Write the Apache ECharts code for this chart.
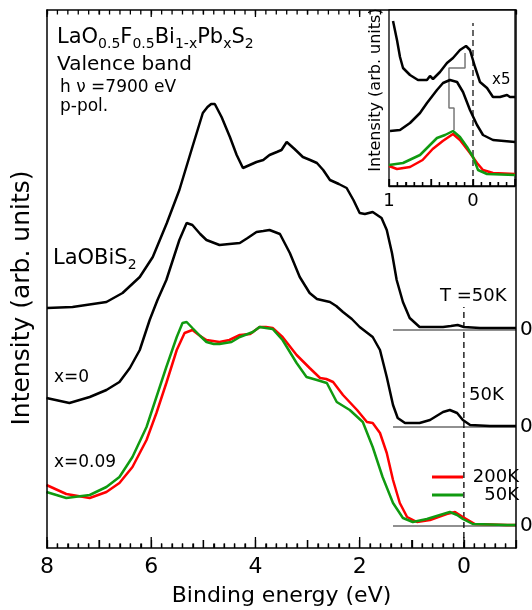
<!DOCTYPE html>
<html><head><meta charset="utf-8">
<script src="https://cdn.jsdelivr.net/npm/echarts@6/dist/echarts.min.js"></script>
<style>html,body{margin:0;padding:0;background:#fff}#c{width:532px;height:610px}</style>
</head><body><div id="c"></div>
<script>
// ---------------- data (binding energy in eV, intensity in arb. units above each curve's own baseline) ----------------
const laobiE = [8.0,7.51,6.86,6.55,6.22,5.97,5.70,5.46,5.21,5.01,4.92,4.85,4.78,4.65,4.49,4.36,4.24,3.98,3.85,3.73,3.59,3.50,3.40,3.25,3.09,2.95,2.82,2.70,2.57,2.40,2.25,2.12,2.00,1.90,1.75,1.58,1.48,1.38,1.29,1.17,1.04,0.85,0.60,0.40,0.25,0.12,0.00,-0.31,-0.60,-1.0];
const laobiI = [22,23,28,37,53,73,107,140,183,217,223,226,226,213,193,175,162,168,170,175,178,180,188,181,173,170,167,160,150,146,142,130,117,116,118,112,100,77,50,28,12,3,3,3,4,5,3,2,2,2];
const x0E = [8.01,7.57,7.18,6.86,6.61,6.41,6.22,6.03,5.88,5.71,5.46,5.32,5.21,5.06,4.94,4.69,4.50,4.30,4.15,3.98,3.85,3.73,3.53,3.34,3.15,2.96,2.82,2.57,2.45,2.32,2.15,2.00,1.75,1.61,1.48,1.36,1.27,1.13,0.85,0.65,0.40,0.27,0.13,0.02,-0.12,-0.50,-0.88,-1.0];
const x0I = [29,24,30,37,45,59,77,107,127,147,187,204,202,193,187,182,183,184,189,195,196,197,193,174,150,134,128,125,121,115,108,100,90,77,50,22,9,4,4,7,15,17,14,7,2,1,1,1];
const red009E = [8.01,7.63,7.18,6.86,6.61,6.36,6.09,5.90,5.71,5.51,5.36,5.21,5.06,4.94,4.69,4.50,4.30,4.10,3.92,3.80,3.67,3.48,3.21,2.96,2.76,2.64,2.51,2.32,2.05,1.86,1.75,1.61,1.48,1.36,1.23,1.09,0.90,0.65,0.33,0.17,0.02,-0.21,-0.83,-1.0];
const red009I = [41,32,28,34,43,59,86,113,143,176,193,196,190,186,184,186,191,192,199,199,198,189,171,158,148,147,144,131,116,104,103,93,73,46,23,9,4,6,12,14,9,2,1,1];
const grn009E = [8.01,7.63,7.18,6.86,6.61,6.36,6.09,5.90,5.71,5.51,5.40,5.32,5.21,5.06,4.94,4.80,4.69,4.46,4.30,4.05,3.92,3.80,3.67,3.48,3.21,3.02,2.82,2.63,2.44,2.19,1.94,1.75,1.56,1.36,1.17,0.98,0.71,0.46,0.27,0.13,0.02,-0.17,-0.83,-1.0];
const grn009I = [34,28,31,39,49,69,99,129,159,189,203,204,198,190,184,182,182,184,189,194,199,198,197,186,163,149,146,143,124,116,104,79,49,23,8,4,7,11,14,11,7,2,1,1];

// vertical offsets of the stacked spectra (their zero lines)
const offLaobi = 218;
const offX0 = 121;
const offX009 = 22;
const baselineRange = [1.36, -1.0];
const fermiE = 0;
const mainDashTop = 241;

// x tick labels
const mainTickLabels = [0, 2, 4, 6, 8];
const insetTickLabels = [0, 1];

// inset (near-EF region)
const insTopE = [0.952,0.905,0.869,0.833,0.75,0.655,0.548,0.512,0.476,0.393,0.310,0.238,0.155,0.083,0.036,-0.024,-0.083,-0.167,-0.238,-0.321,-0.405,-0.440,-0.5];
const insTopI = [165,146,129,118,111,106,106,110,107,114,123,128,136,140,136,119,104,98,89,89,91,89,89];
const insMidE = [0.988,0.869,0.75,0.631,0.548,0.429,0.357,0.274,0.190,0.119,0.036,-0.048,-0.119,-0.238,-0.5];
const insMidI = [55,56,63,73,83,96,103,106,104,94,76,61,51,46,44];
const insRedE = [1.0,0.905,0.75,0.6,0.48,0.36,0.238,0.155,0.036,-0.048,-0.119,-0.238,-0.5];
const insRedI = [20,17,19,26,37,45,52,46,33,23,16,13,12];
const insGrnE = [1.0,0.833,0.631,0.429,0.333,0.238,0.155,0.071,0.0,-0.060,-0.167,-0.5];
const insGrnI = [21,23,31,48,51,55,49,39,29,16,12,11];
const insMarkE = [0.095,0.095,0.286,0.286,0.226,0.226];
const insMarkI = [133,118,118,78,78,56];
const insDashTop = 163;

// axis ranges / tick steps
const mainX = [-1, 8], mainY = [0, 538], mainMinorStep = 0.2;
const insX = [-0.5, 1], insY = [0, 176], insMinorStep = 0.1;

// ---------------- chart ----------------
const FONT = 'DejaVu Sans', BLACK = '#000', RED = '#ff0000', GREEN = '#109a10';
const zip = (E, I, off) => E.map((e, i) => [e, I[i] + off]);
const chart = echarts.init(document.getElementById('c'));
const tick = () => ({color: BLACK, width: 1.3});
const lineSeries = (name, data, color, extra) => Object.assign({
  type: 'line', name, data, symbol: 'none', showSymbol: false, silent: true,
  lineStyle: {color, width: 2.5}, itemStyle: {color}
}, extra || {});
const inset = {xAxisIndex: 2, yAxisIndex: 2, zlevel: 2};

// tick marks placed through the axes' own scales (value, y-anchor, length, direction)
function tickValues(range, step) {
  const out = [];
  const n = Math.round((range[1] - range[0]) / step);
  for (let k = 0; k <= n; k++) out.push(+(range[0] + k * step).toFixed(3));
  return out;
}
const isMult = (v, m) => Math.abs(v / m - Math.round(v / m)) < 1e-6;
const mainTicks = tickValues(mainX, mainMinorStep);
const insTicks = tickValues(insX, insMinorStep);
const tickData = [];
mainTicks.forEach(v => {
  tickData.push([v, mainY[0], isMult(v, 2) ? 11 : (isMult(v, 1) ? 8 : 4.5), 1]);
  tickData.push([v, mainY[1], isMult(v, 2) ? 7 : 4.5, -1]);
});
const insTickData = insTicks.map(v => [v, insY[0], isMult(v, 0.5) ? 7 : 4, 1]);
const renderTick = (params, api) => {
  const p = api.coord([api.value(0), api.value(1)]);
  const L = api.value(2) * api.value(3);
  return {type: 'line', shape: {x1: p[0], y1: p[1], x2: p[0], y2: p[1] - L}, style: {stroke: BLACK, lineWidth: 1.3}};
};

chart.setOption({
  animation: false,
  backgroundColor: '#fff',
  textStyle: {fontFamily: FONT},
  grid: [
    {left: 47, right: 16, top: 10, bottom: 62, containLabel: false, outerBoundsMode: 'none'},
    {left: 389, right: 17, top: 10, bottom: 424, containLabel: false, outerBoundsMode: 'none', show: true,
     backgroundColor: '#fff', borderColor: BLACK, borderWidth: 1.3, zlevel: 2, z: 0}
  ],
  xAxis: [
    {gridIndex: 0, type: 'value', position: 'bottom', min: mainX[0], max: mainX[1], interval: 1, inverse: true, zlevel: 1,
     axisLine: {show: true, onZero: false, lineStyle: {color: BLACK, width: 1.5}},
     axisTick: {show: true, inside: true, length: 8, lineStyle: tick()},
     minorTick: {show: true, splitNumber: 5, length: 4.5, lineStyle: tick()},
     splitLine: {show: false}, minorSplitLine: {show: false},
     axisLabel: {show: true, margin: 8, fontSize: 22, fontFamily: FONT, color: BLACK,
       formatter: v => mainTickLabels.indexOf(v) >= 0 ? String(v) : ''},
     name: 'Binding energy (eV)', nameLocation: 'middle', nameGap: 37,
     nameTextStyle: {fontSize: 22, fontFamily: FONT, color: BLACK}},
    {gridIndex: 0, type: 'value', position: 'top', min: mainX[0], max: mainX[1], interval: 1, inverse: true, zlevel: 1,
     axisLine: {show: true, onZero: false, lineStyle: {color: BLACK, width: 1.5}},
     axisTick: {show: true, inside: true, length: 4.5, lineStyle: tick()},
     splitLine: {show: false}, axisLabel: {show: false}},
    {gridIndex: 1, type: 'value', position: 'bottom', min: insX[0], max: insX[1], interval: 0.5, inverse: true, zlevel: 2, z: 1,
     axisLine: {show: true, onZero: false, lineStyle: {color: BLACK, width: 1.3}},
     axisTick: {show: true, inside: true, length: 7, lineStyle: tick()},
     minorTick: {show: true, splitNumber: 5, length: 4, lineStyle: tick()},
     splitLine: {show: false}, minorSplitLine: {show: false},
     axisLabel: {show: true, margin: 6, fontSize: 18, fontFamily: FONT, color: BLACK,
       formatter: v => insetTickLabels.indexOf(v) >= 0 ? String(v) : ''}}
  ],
  yAxis: [
    {gridIndex: 0, type: 'value', position: 'left', min: mainY[0], max: mainY[1], zlevel: 1,
     axisLine: {show: true, onZero: false, lineStyle: {color: BLACK, width: 1.5}},
     axisTick: {show: false}, axisLabel: {show: false}, splitLine: {show: false}},
    {gridIndex: 0, type: 'value', position: 'right', min: mainY[0], max: mainY[1], zlevel: 1,
     axisLine: {show: true, onZero: false, lineStyle: {color: BLACK, width: 1.5}},
     axisTick: {show: false}, splitLine: {show: false},
     axisLabel: {show: true, customValues: [offX009, offX0, offLaobi], formatter: () => '0',
       margin: 4, fontSize: 20, fontFamily: FONT, color: BLACK}},
    {gridIndex: 1, type: 'value', show: false, min: insY[0], max: insY[1]}
  ],
  legend: {
    data: ['200K', '50K'], orient: 'vertical', left: 427, top: 463,
    icon: 'rect', itemWidth: 31, itemHeight: 3, itemGap: 0, selectedMode: false,
    formatter: '{a|{name}}',
    textStyle: {rich: {a: {fontSize: 18, fontFamily: FONT, width: 51, align: 'right', lineHeight: 20, color: BLACK}}}
  },
  series: [
    {type: 'custom', name: 'ticks', silent: true, clip: false, zlevel: 1, z: 5, xAxisIndex: 0, yAxisIndex: 0,
     encode: {x: 0, y: 1}, data: tickData, renderItem: renderTick},
    {type: 'custom', name: 'insetTicks', silent: true, clip: false, zlevel: 2, z: 5, xAxisIndex: 2, yAxisIndex: 2,
     encode: {x: 0, y: 1}, data: insTickData, renderItem: renderTick},
    lineSeries('base1', baselineRange.map(e => [e, offLaobi]), '#222', {lineStyle: {color: '#222', width: 1.2}}),
    lineSeries('base2', baselineRange.map(e => [e, offX0]), '#222', {lineStyle: {color: '#222', width: 1.2}}),
    lineSeries('base3', baselineRange.map(e => [e, offX009]), '#222', {lineStyle: {color: '#222', width: 1.2}}),
    lineSeries('EF', [[fermiE, 0], [fermiE, mainDashTop]], BLACK, {lineStyle: {color: BLACK, width: 1.3, type: [6, 4]}}),
    lineSeries('LaOBiS2', zip(laobiE, laobiI, offLaobi), BLACK),
    lineSeries('x=0', zip(x0E, x0I, offX0), BLACK),
    lineSeries('200K', zip(red009E, red009I, offX009), RED),
    lineSeries('50K', zip(grn009E, grn009I, offX009), GREEN),
    lineSeries('insEF', [[fermiE, 0], [fermiE, insDashTop]], BLACK,
      Object.assign({z: 2, lineStyle: {color: BLACK, width: 1.2, type: [6, 4]}}, inset)),
    lineSeries('insMark', insMarkE.map((e, i) => [e, insMarkI[i]]), '#777',
      Object.assign({z: 2, lineStyle: {color: '#777', width: 1.5}}, inset)),
    lineSeries('insTop', insTopE.map((e, i) => [e, insTopI[i]]), BLACK, Object.assign({z: 3}, inset)),
    lineSeries('insMid', insMidE.map((e, i) => [e, insMidI[i]]), BLACK, Object.assign({z: 3}, inset)),
    lineSeries('200K', insRedE.map((e, i) => [e, insRedI[i]]), RED, Object.assign({z: 3}, inset)),
    lineSeries('50K', insGrnE.map((e, i) => [e, insGrnI[i]]), GREEN, Object.assign({z: 4}, inset))
  ],
  graphic: [
    {type: 'text', x: 57, y: 38, silent: true, style: {
      text: '{m|LaO}{s|0.5}{m|F}{s|0.5}{m|Bi}{s|1-x}{m|Pb}{s|x}{m|S}{s|2}',
      verticalAlign: 'middle', align: 'left',
      rich: {m: {fontSize: 21, fontFamily: FONT, lineHeight: 26, fill: BLACK},
             s: {fontSize: 14, fontFamily: FONT, lineHeight: 16, verticalAlign: 'bottom', fill: BLACK}}}},
    {type: 'text', x: 57, y: 65, silent: true, style: {text: 'Valence band', fontSize: 20, fontFamily: FONT, fill: BLACK, verticalAlign: 'middle'}},
    {type: 'text', x: 60, y: 88, silent: true, style: {text: 'h \u03bd =7900 eV', fontSize: 17, fontFamily: FONT, fill: BLACK, verticalAlign: 'middle'}},
    {type: 'text', x: 60, y: 107, silent: true, style: {text: 'p-pol.', fontSize: 17, fontFamily: FONT, fill: BLACK, verticalAlign: 'middle'}},
    {type: 'text', x: 53, y: 259, silent: true, style: {
      text: '{m|LaOBiS}{s|2}', verticalAlign: 'middle',
      rich: {m: {fontSize: 21, fontFamily: FONT, lineHeight: 26, fill: BLACK},
             s: {fontSize: 14, fontFamily: FONT, lineHeight: 16, verticalAlign: 'bottom', fill: BLACK}}}},
    {type: 'text', x: 54, y: 378, silent: true, style: {text: 'x=0', fontSize: 17, fontFamily: FONT, fill: BLACK, verticalAlign: 'middle'}},
    {type: 'text', x: 54, y: 463, silent: true, style: {text: 'x=0.09', fontSize: 17, fontFamily: FONT, fill: BLACK, verticalAlign: 'middle'}},
    {type: 'text', x: 440, y: 296, silent: true, style: {text: 'T =50K', fontSize: 18, fontFamily: FONT, fill: BLACK, verticalAlign: 'middle'}},
    {type: 'text', x: 469, y: 395, silent: true, style: {text: '50K', fontSize: 18, fontFamily: FONT, fill: BLACK, verticalAlign: 'middle'}},
    {type: 'text', x: 22, y: 298, rotation: Math.PI / 2, silent: true, style: {text: 'Intensity (arb. units)', fontSize: 25, fontFamily: FONT, fill: BLACK, align: 'center', verticalAlign: 'middle'}},
    {type: 'text', x: 376, y: 90, rotation: Math.PI / 2, silent: true, zlevel: 2, z: 5, style: {text: 'Intensity (arb. units)', fontSize: 16, fontFamily: FONT, fill: BLACK, align: 'center', verticalAlign: 'middle'}},
    {type: 'text', x: 492, y: 80, silent: true, zlevel: 2, z: 5, style: {text: 'x5', fontSize: 15, fontFamily: FONT, fill: BLACK, verticalAlign: 'middle'}}
  ]
});
</script>
</body></html>
